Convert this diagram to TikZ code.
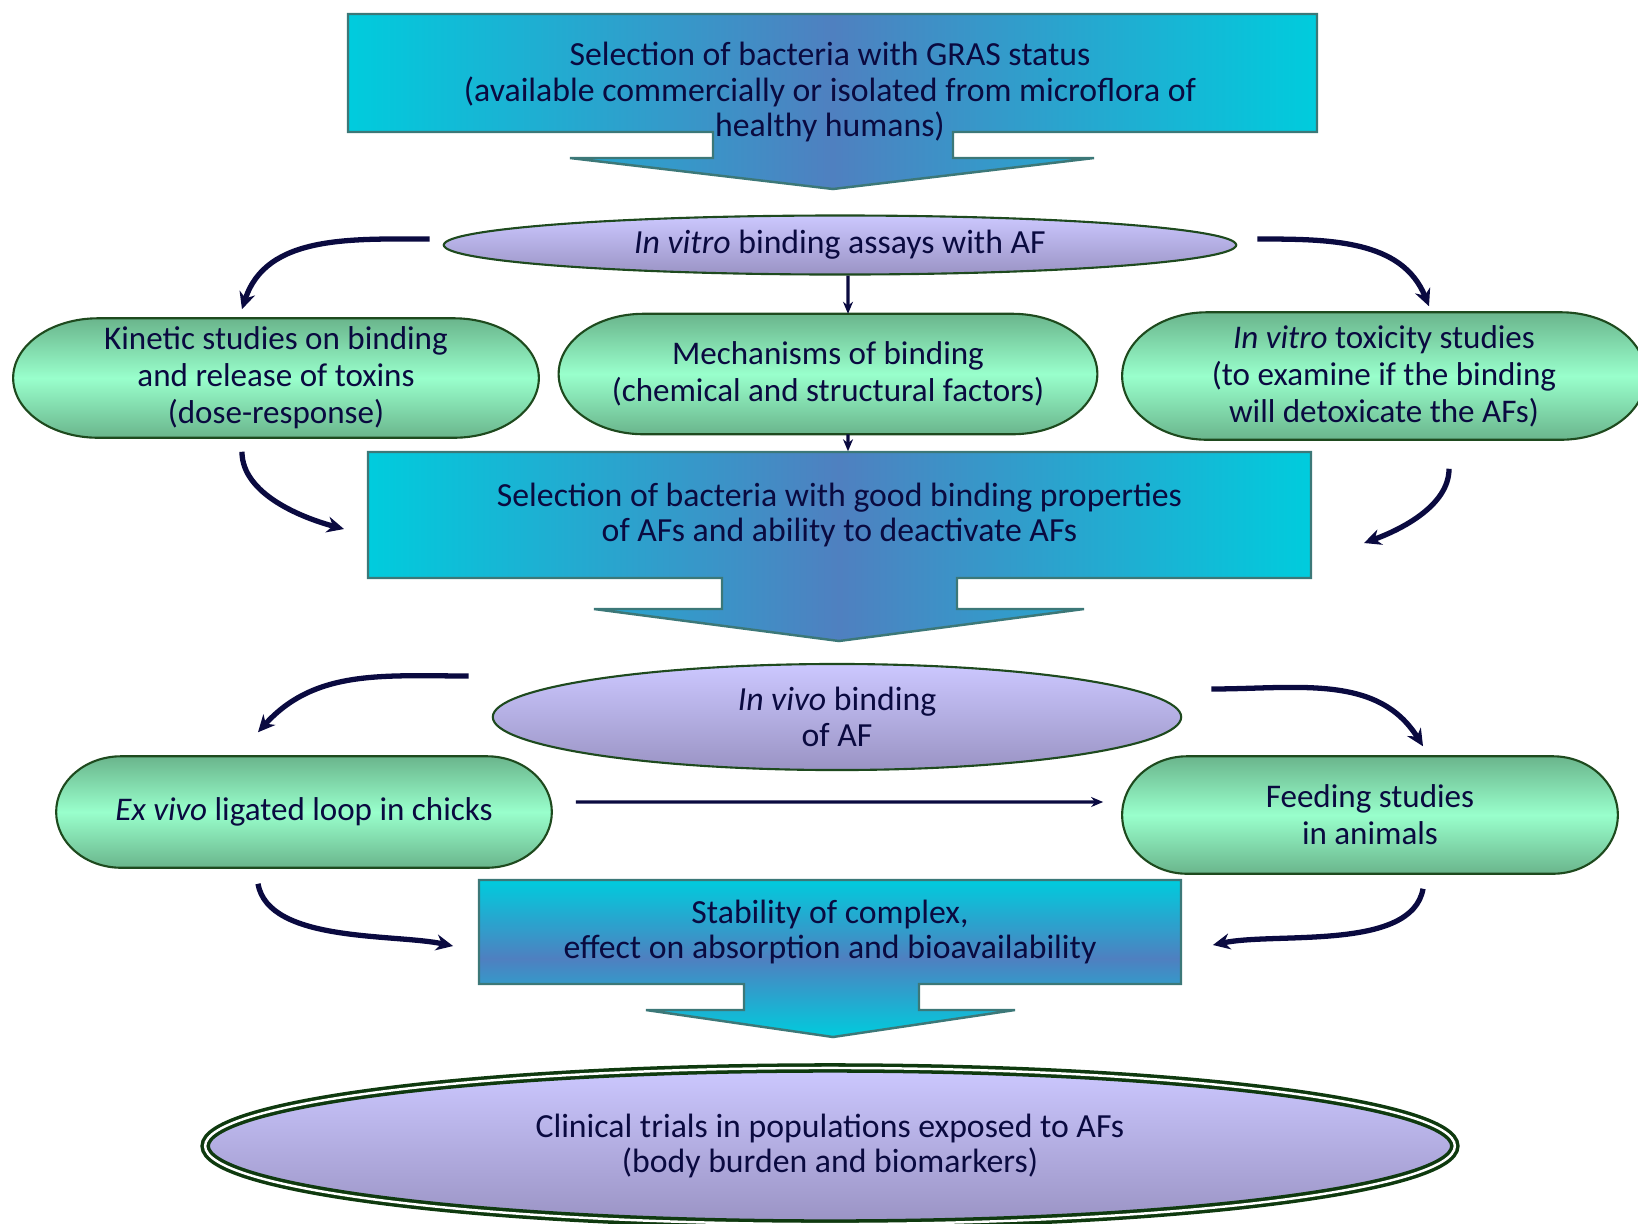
\documentclass[tikz,border=0pt]{standalone}
\usepackage{fontspec}
\setmainfont{Carlito}
\usetikzlibrary{arrows.meta, shapes.geometric, calc, backgrounds}
\definecolor{ccyan}{HTML}{00CCDD}
\definecolor{cblue}{HTML}{4F80C0}
\definecolor{cteal}{HTML}{3C7878}
\definecolor{cnavy}{HTML}{0A0A40}
\definecolor{cgreen}{HTML}{1E4A1E}
\definecolor{cdkgreen}{HTML}{0F3A0F}
\definecolor{clavtop}{HTML}{CCC8FF}
\definecolor{clavbot}{HTML}{9A93C4}
\definecolor{cmintdark}{HTML}{6AB58C}
\definecolor{cmint}{HTML}{99FFCC}
\tikzset{
  every node/.style={text=cnavy, align=center, inner sep=0pt},
  blocktxt/.style={font=\fontsize{9.6}{10.1}\selectfont},
  pilltxt/.style={font=\fontsize{9.4}{10.5}\selectfont},
  oval/.style={ellipse, draw=cgreen, line width=0.6pt, top color=clavtop, bottom color=clavbot, blocktxt},
  blockarrow/.style={draw=cteal, line width=0.7pt},
  pillfill/.style={draw=cgreen, line width=0.6pt, top color=cmintdark, bottom color=cmintdark, middle color=cmint},
  curvy/.style={-{Stealth[length=1.7mm, width=1.6mm]}, draw=cnavy, line width=1.5pt},
  straight/.style={-{Stealth[length=1.2mm, width=1mm]}, draw=cnavy, line width=0.9pt},
}
% pill shape behind a node: node name, depth of the rounded ends
\newcommand\pillshape[2]{%
  \path[pillfill] let \p1=(#1.north west), \p2=(#1.south east), \n1={(\y1-\y2)/2} in
    (\x1+#2,\y1) -- (\x2-#2,\y1) arc[start angle=90, end angle=-90, x radius=#2, y radius=\n1]
    -- (\x1+#2,\y2) arc[start angle=270, end angle=90, x radius=#2, y radius=\n1] -- cycle;}

\begin{document}
\begin{tikzpicture}[x=0.01cm, y=-0.01cm]
  \useasboundingbox (0,0) rectangle (1638,1223);

  % text of the three block arrows
  \node[blocktxt] (gras) at (830,92) {Selection of bacteria with GRAS status\\(available commercially or isolated from microflora of\\healthy humans)};
  \node[blocktxt, minimum width=9.43cm, minimum height=1.26cm] (sel2) at (839.5,515) {Selection of bacteria with good binding properties\\of AFs and ability to deactivate AFs};
  \node[blocktxt, minimum width=7.02cm, minimum height=1.04cm] (stab) at (830,932) {Stability of complex,\\effect on absorption and bioavailability};

  % ovals
  \node[oval, minimum width=7.92cm, minimum height=0.59cm] (ivitro) at (840,245) {\textit{In vitro} binding assays with AF};
  \node[oval, minimum width=6.88cm, minimum height=1.06cm] (ivivo) at (837,717) {\textit{In vivo} binding\\of AF};
  \node[ellipse, draw=cdkgreen, line width=1pt, double=white, double distance=0.7pt, top color=clavtop, bottom color=clavbot, blocktxt,
        minimum width=12.49cm, minimum height=1.56cm] (clin) at (830,1146) {Clinical trials in populations exposed to AFs\\(body burden and biomarkers)};

  % pill nodes
  \node[pilltxt, minimum width=5.24cm, minimum height=1.18cm] (kin) at (276,378) {Kinetic studies on binding\\and release of toxins\\(dose-response)};
  \node[pilltxt, minimum width=5.37cm, minimum height=1.19cm] (mech) at (828,374) {Mechanisms of binding\\(chemical and structural factors)};
  \node[pilltxt, minimum width=5.22cm, minimum height=1.26cm] (tox) at (1384,376) {\textit{In vitro} toxicity studies\\(to examine if the binding\\will detoxicate the AFs)};
  \node[pilltxt, minimum width=4.94cm, minimum height=1.10cm] (exv) at (304,812) {\textit{Ex vivo} ligated loop in chicks};
  \node[pilltxt, minimum width=4.94cm, minimum height=1.16cm] (feed) at (1370,815) {Feeding studies\\in animals};

  \begin{scope}[on background layer]
    \path[blockarrow, left color=ccyan, right color=ccyan, middle color=cblue]
      (348,14) -- (1317,14) -- (1317,132) -- (953,132) -- (953,158) -- (1094,158) -- (833,189)
      -- (570,158) -- (713,158) -- (713,132) -- (348,132) -- cycle;
    \path[blockarrow, left color=ccyan, right color=ccyan, middle color=cblue]
      (368,452) -- (1311,452) -- (1311,578) -- (957,578) -- (957,609) -- (1084,609) -- (839,641)
      -- (594,609) -- (722,609) -- (722,578) -- (368,578) -- cycle;
    \path[blockarrow, top color=ccyan, bottom color=ccyan, middle color=cblue]
      (479,880) -- (1181,880) -- (1181,984) -- (919,984) -- (919,1010) -- (1015,1010) -- (833,1037)
      -- (646,1010) -- (744,1010) -- (744,984) -- (479,984) -- cycle;
    \pillshape{kin}{0.85cm}
    \pillshape{mech}{0.85cm}
    \pillshape{tox}{0.85cm}
    \pillshape{exv}{0.65cm}
    \pillshape{feed}{0.65cm}
  \end{scope}

  % connectors
  \draw[curvy] ([xshift=-0.13cm, yshift=0.06cm]ivitro.west) to[out=180, in=72] ([xshift=-0.34cm, yshift=0.09cm]kin.north);
  \draw[curvy] ([xshift=0.2cm, yshift=0.06cm]ivitro.east) to[out=0, in=112] ([xshift=0.45cm, yshift=0.06cm]tox.north);
  \draw[straight] ([xshift=0.08cm]ivitro.south) -- ([xshift=0.2cm]mech.north);
  \draw[straight] ([xshift=0.2cm]mech.south) -- ([xshift=0.085cm]sel2.north);
  \draw[curvy] ([xshift=-0.34cm, yshift=-0.14cm]kin.south) to[out=-90, in=165, looseness=0.85] ([xshift=-0.23cm, yshift=-0.14cm]sel2.west);
  \draw[curvy] ([xshift=0.65cm, yshift=-0.29cm]tox.south) to[out=-90, in=20, looseness=0.85] ([xshift=0.52cm, yshift=-0.28cm]sel2.east);
  \draw[curvy] ([xshift=-0.23cm, yshift=0.41cm]ivivo.west) to[out=180, in=48] ([xshift=-0.46cm, yshift=0.24cm]exv.north);
  \draw[curvy] ([xshift=0.29cm, yshift=0.28cm]ivivo.east) to[out=0, in=122] ([xshift=0.53cm, yshift=0.10cm]feed.north);
  \draw[straight] ([xshift=0.24cm, yshift=0.1cm]exv.east) -- ([xshift=-0.19cm, yshift=0.13cm]feed.west);
  \draw[curvy] ([xshift=-0.46cm, yshift=-0.16cm]exv.south) to[out=-80, in=168, looseness=0.75] ([xshift=-0.25cm, yshift=-0.14cm]stab.west);
  \draw[curvy] ([xshift=0.53cm, yshift=-0.15cm]feed.south) to[out=-100, in=12, looseness=0.75] ([xshift=0.31cm, yshift=-0.13cm]stab.east);
\end{tikzpicture}
\end{document}
